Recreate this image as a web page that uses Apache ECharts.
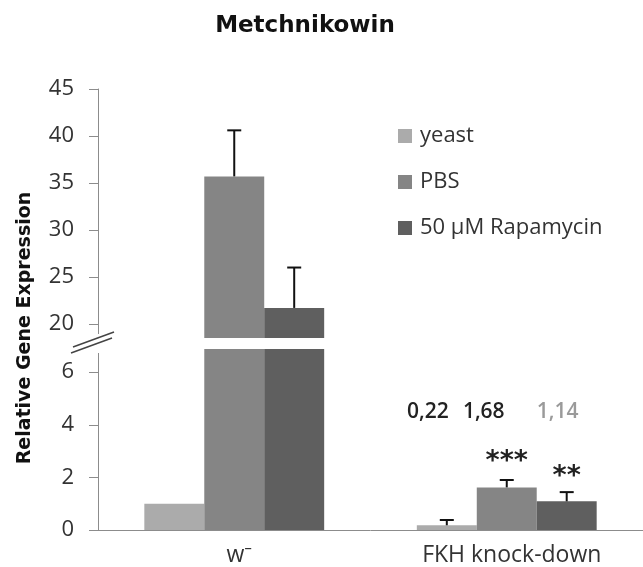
<!DOCTYPE html>
<html>
<head>
<meta charset="utf-8">
<script src="https://cdn.jsdelivr.net/npm/echarts@6/dist/echarts.min.js"></script>
<style>html,body{margin:0;padding:0;background:#fff}#c{width:643px;height:567px}</style>
</head>
<body>
<div id="c"></div>
<script>
// ---- data ----
const categories = ['w\u207B', 'FKH knock-down'];
const seriesNames = ['yeast', 'PBS', '50 \u00B5M Rapamycin'];
const yeast = [1.0, 0.18];
const pbs = [35.7, 1.62];
const rapamycin = [21.7, 1.09];
const yeastErr = [0, 0.2];
const pbsErr = [4.9, 0.28];
const rapamycinErr = [4.3, 0.35];
const valueLabels = ['0,22', '1,68', '1,14'];          // printed above FKH group
const starLabels = ['', '***', '**'];                  // significance marks
const upperTicks = [20, 25, 30, 35, 40, 45];
const lowerTicks = [0, 2, 4, 6];

const colors = ['#ababab', '#858585', '#5f5f5f'];
const values = [yeast, pbs, rapamycin];
const errs = [yeastErr, pbsErr, rapamycinErr];

const UPPER_MIN = 18.5, UPPER_MAX = 45;
const LOWER_MIN = 0, LOWER_MAX = 6.88;
const GAP = 0.34;
const LABEL_SHIFT = [-19, -23, -9]; // horizontal pixel nudge of the value labels

const chart = echarts.init(document.getElementById('c'), null, {renderer: 'canvas'});

const labelFont = 'Open Sans, Noto Sans, sans-serif';

function yAxisCfg(gi, min, max, ticks) {
  return {
    type: 'value', gridIndex: gi, min: min, max: max,
    splitLine: {show: false},
    axisLine: {show: true, lineStyle: {color: '#8c8c8c', width: 1}},
    axisTick: {show: true, length: 9, customValues: ticks, lineStyle: {color: '#8c8c8c'}},
    axisLabel: {customValues: ticks, margin: 24, color: '#333', fontSize: 22, fontFamily: labelFont}
  };
}

// bar series
const series = [];
[0, 1].forEach(gi => {
  seriesNames.forEach((n, s) => {
    const data = values[s].map(v => {
      if (gi === 0) return v > LOWER_MAX ? v : null;
      return v;
    });
    series.push({
      name: n, type: 'bar', xAxisIndex: gi, yAxisIndex: gi,
      data: data, barGap: 0, barCategoryGap: (GAP * 100) + '%',
      itemStyle: {color: colors[s]}, clip: true, silent: true
    });
  });
});

// error bars
const errData = [[], []];
values.forEach((arr, s) => {
  arr.forEach((v, c) => {
    const e = errs[s][c];
    if (!e) return;
    const gi = v > LOWER_MAX ? 0 : 1;
    errData[gi].push([c, s, v, v + e]);
  });
});
function errRender(params, api) {
  const c = api.value(0), s = api.value(1), lo = api.value(2), hi = api.value(3);
  const band = api.size([1, 0])[0];
  const bw = band * (1 - GAP) / 3;
  const p0 = api.coord([c, lo]);
  const p1 = api.coord([c, hi]);
  const x = p0[0] + (s - 1) * bw;
  const st = {stroke: '#111', lineWidth: 2};
  return {
    type: 'group', children: [
      {type: 'line', shape: {x1: x, y1: p0[1], x2: x, y2: p1[1]}, style: st},
      {type: 'line', shape: {x1: x - 7, y1: p1[1], x2: x + 7, y2: p1[1]}, style: st}
    ]
  };
}
[0, 1].forEach(gi => {
  series.push({
    type: 'custom', xAxisIndex: gi, yAxisIndex: gi, data: errData[gi],
    renderItem: errRender, encode: {x: 0, y: [2, 3]}, silent: true, z: 5
  });
});

// annotations (value labels + stars) on the FKH group
const annData = [];
valueLabels.forEach((t, s) => annData.push([1, s, 4.5, t, 0]));
starLabels.forEach((t, s) => {
  if (t) annData.push([1, s, values[s][1] + errs[s][1], t, 1]);
});
series.push({
  type: 'custom', xAxisIndex: 1, yAxisIndex: 1, data: annData,
  encode: {x: 0, y: 2}, silent: true, clip: false, z: 6,
  renderItem: function (params, api) {
    const c = api.value(0), s = api.value(1), v = api.value(2);
    const d = annData[params.dataIndex];
    const band = api.size([1, 0])[0];
    const bw = band * (1 - GAP) / 3;
    const p = api.coord([c, v]);
    const x = p[0] + (s - 1) * bw;
    if (d[4] === 0) {
      return {type: 'text', x: x + LABEL_SHIFT[s], y: p[1], style: {
        text: d[3], fill: s === 2 ? '#9a9a9a' : '#222', align: 'center', verticalAlign: 'middle',
        font: '600 21px "Open Sans", "Noto Sans", sans-serif'}};
    }
    return {type: 'text', x: x, y: p[1] - (s === 1 ? 5 : 2), style: {
      text: d[3], fill: '#222', align: 'center', verticalAlign: 'bottom',
      font: 'bold 27px "DejaVu Sans", sans-serif'}};
  }
});

const GL = 98, GW = 549;
const upperTop = 89, upperBottom = 338, lowerTop = 349, lowerBottom = 530;

chart.setOption({
  backgroundColor: '#fff',
  animation: false,
  title: {
    text: 'Metchnikowin', left: 300, top: 10, textAlign: 'center',
    textStyle: {fontFamily: 'DejaVu Sans, Verdana, sans-serif', fontWeight: 'bold', fontSize: 23, color: '#111'}
  },
  legend: {
    data: seriesNames, orient: 'vertical', left: 393, top: 120,
    itemWidth: 14, itemHeight: 14, itemGap: 24, icon: 'rect',
    selectedMode: false,
    textStyle: {fontFamily: labelFont, fontSize: 22, color: '#333', padding: [0, 0, 0, 3]}
  },
  grid: [
    {left: GL, width: GW, top: upperTop, height: upperBottom - upperTop},
    {left: GL, width: GW, top: lowerTop, height: lowerBottom - lowerTop}
  ],
  xAxis: [
    {type: 'category', gridIndex: 0, data: categories, axisLine: {show: false}, axisTick: {show: false}, axisLabel: {show: false}},
    {type: 'category', gridIndex: 1, data: categories,
      axisLine: {show: true, lineStyle: {color: '#8c8c8c'}}, axisTick: {show: false},
      axisLabel: {margin: 14, color: '#333', fontSize: 23, fontFamily: labelFont, padding: [0, 0, 0, 10]}}
  ],
  yAxis: [
    yAxisCfg(0, UPPER_MIN, UPPER_MAX, upperTicks),
    yAxisCfg(1, LOWER_MIN, LOWER_MAX, lowerTicks)
  ],
  graphic: [
    {type: 'text', x: 25, y: 328, rotation: Math.PI / 2,
      style: {text: 'Relative Gene Expression', font: 'bold 19px "DejaVu Sans", sans-serif', fill: '#111', align: 'center', verticalAlign: 'middle'}},
    {type: 'rect', shape: {x: GL - 3, y: upperBottom - 4, width: 6, height: lowerTop - upperBottom + 8}, style: {fill: '#fff'}, z: 10},
    {type: 'line', shape: {x1: 73, y1: 347, x2: 114, y2: 332}, style: {stroke: '#444', lineWidth: 1.5}, z: 11},
    {type: 'line', shape: {x1: 71, y1: 353, x2: 112, y2: 338}, style: {stroke: '#444', lineWidth: 1.5}, z: 11}
  ],
  series: series
});
</script>
</body>
</html>
